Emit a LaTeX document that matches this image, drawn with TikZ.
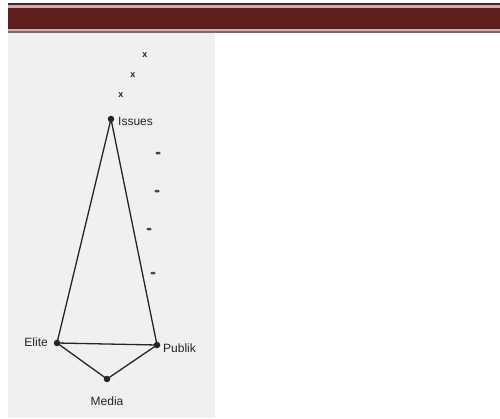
\documentclass[tikz,border=0pt]{standalone}
\usepackage{fontspec}
\setmainfont{Liberation Sans}
\definecolor{barred}{HTML}{5E1F1E}
\definecolor{barpink}{HTML}{D9A8A8}
\definecolor{bardark}{HTML}{3A2A2A}
\definecolor{scan}{HTML}{F0F0F3}
\definecolor{ink}{HTML}{252525}
\begin{document}
\begin{tikzpicture}[x=1pt,y=-1pt,
  pt/.style={circle,fill=ink,inner sep=0pt,minimum size=6.5pt},
  lbl/.style={text=ink,font=\fontsize{12}{14}\selectfont,inner sep=0pt},
  edge/.style={draw=ink,line width=1.3pt},
  tick/.style={text=ink,font=\bfseries\fontsize{9}{10}\selectfont,inner sep=0pt},
  dashmark/.style={ellipse,fill=ink!85,inner sep=0pt,minimum width=5pt,minimum height=3pt}]
\useasboundingbox (0,0) rectangle (500,418);
\fill[white] (0,0) rectangle (500,418);
% header bar
\fill[bardark] (8,3) rectangle (500,5);
\fill[barpink] (8,5) rectangle (500,8);
\fill[barred] (8,8) rectangle (500,29);
\fill[barpink] (8,29) rectangle (500,31);
\fill[bardark!70] (8,31) rectangle (500,33);
% scanned page
\fill[scan] (8,33) rectangle (215,418);
% nodes
\node[pt] (issues) at (111,119) {};
\node[pt] (elite) at (57,343) {};
\node[pt] (publik) at (157,345) {};
\node[pt] (media) at (107,379) {};
\node[lbl,anchor=west] (lissues) at (118,121) {Issues};
\node[lbl,anchor=east] (lelite) at (48,342) {Elite};
\node[lbl,anchor=west] (lpublik) at (163,348) {Publik};
\node[lbl,anchor=north] (lmedia) at (107,397) {Media};
% edges
\draw[edge] (issues.center) -- (elite.center);
\draw[edge] (issues.center) -- (publik.center);
\draw[edge] (elite.center) -- (publik.center);
\draw[edge] (elite.center) -- (media.center);
\draw[edge] (media.center) -- (publik.center);
% marks
\node[tick] (x1) at (145,55) {x};
\node[tick] (x2) at (133,75) {x};
\node[tick] (x3) at (121,95) {x};
\node[draw=none,fill=ink!85,inner sep=0pt,minimum width=5pt,minimum height=2.5pt,rounded corners=1pt] (d1) at (158,153) {};
\node[draw=none,fill=ink!85,inner sep=0pt,minimum width=5pt,minimum height=2.5pt,rounded corners=1pt] (d2) at (157,191) {};
\node[draw=none,fill=ink!85,inner sep=0pt,minimum width=5pt,minimum height=2.5pt,rounded corners=1pt] (d3) at (149,229) {};
\node[draw=none,fill=ink!85,inner sep=0pt,minimum width=5pt,minimum height=2.5pt,rounded corners=1pt] (d4) at (153,273) {};
\end{tikzpicture}
\end{document}
